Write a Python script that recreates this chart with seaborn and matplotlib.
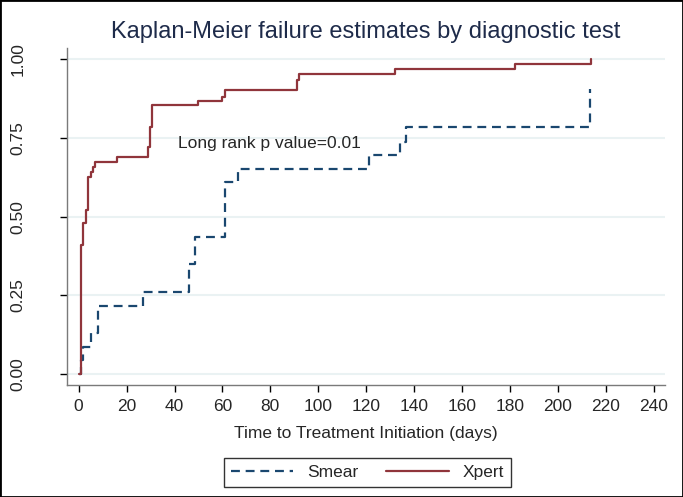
import pandas as pd
import seaborn as sns
import matplotlib.pyplot as plt
from matplotlib.patches import Rectangle

# Kaplan-Meier failure curves (days, cumulative failure)
xpert_days = [0, 1, 2, 3, 4, 5, 6, 7, 16, 29, 29.7, 30.6, 50, 60, 61, 90, 91, 92, 132, 182, 214]
xpert_fail = [0, 0.41, 0.48, 0.52, 0.627, 0.643, 0.659, 0.675, 0.69, 0.72, 0.786, 0.855,
              0.869, 0.881, 0.902, 0.902, 0.934, 0.952, 0.968, 0.985, 1.0]

smear_days = [0, 1, 2, 5, 8, 27, 46, 48.5, 61, 66.5, 121, 134, 136.6, 213.5]
smear_fail = [0, 0.043, 0.087, 0.13, 0.217, 0.26, 0.348, 0.434, 0.61, 0.653, 0.696,
              0.738, 0.784, 0.905]

groups = ['Smear', 'Xpert']
colors = {'Smear': '#1A476F', 'Xpert': '#90353B'}

df = pd.concat([
    pd.DataFrame({'days': smear_days, 'fail': smear_fail, 'test': 'Smear'}),
    pd.DataFrame({'days': xpert_days, 'fail': xpert_fail, 'test': 'Xpert'}),
])

sns.set_style('white')
plt.rcParams['font.family'] = ['Liberation Sans', 'DejaVu Sans']

fig = plt.figure(figsize=(6.83, 4.97), dpi=100)
ax = fig.add_axes([0.098, 0.2254, 0.876, 0.678])

sns.lineplot(data=df, x='days', y='fail', hue='test', style='test',
             hue_order=groups, style_order=groups, palette=colors,
             dashes={'Smear': (4, 2.6), 'Xpert': ''},
             estimator=None, sort=False, drawstyle='steps-post',
             linewidth=1.6, ax=ax)

ax.set_xlim(-4.9, 244.8)
ax.set_ylim(-0.035, 1.036)
ax.set_xticks(range(0, 241, 20))
ax.set_yticks([0, 0.25, 0.5, 0.75, 1.0])
ax.set_yticklabels(['0.00', '0.25', '0.50', '0.75', '1.00'], rotation=90, va='center')
ax.tick_params(axis='both', direction='out', length=5, width=1, color='black',
               labelsize=12.5, left=True, bottom=True)
ax.tick_params(axis='y', pad=25)
ax.tick_params(axis='x', pad=5)

ax.yaxis.grid(True, color='#EAF2F3', linewidth=1.5)
ax.xaxis.grid(False)
for side in ['top', 'right']:
    ax.spines[side].set_visible(False)
for side in ['left', 'bottom']:
    ax.spines[side].set_color('#7a7a7a')
    ax.spines[side].set_linewidth(1)

ax.set_xlabel('Time to Treatment Initiation (days)', fontsize=12.5, labelpad=9)
ax.set_ylabel('')
ax.set_title('Kaplan-Meier failure estimates by diagnostic test',
             fontsize=17, color='#1E2B4A', pad=7)

ax.text(41.5, 0.734, 'Long rank p value=0.01', fontsize=12.5, va='center', ha='left')

handles, labels = ax.get_legend_handles_labels()
ax.legend_.remove()
leg = fig.legend(handles, labels, loc='center', bbox_to_anchor=(0.538, 0.05),
                 ncol=2, fontsize=12.5, frameon=True, fancybox=False,
                 edgecolor='black', handlelength=3.6, columnspacing=1.6,
                 borderpad=0.4)
leg.get_frame().set_linewidth(1)

fig.patches.append(Rectangle((0, 0), 1, 1, transform=fig.transFigure,
                             fill=False, edgecolor='black', linewidth=2))

fig.savefig('out.png', dpi=100)
